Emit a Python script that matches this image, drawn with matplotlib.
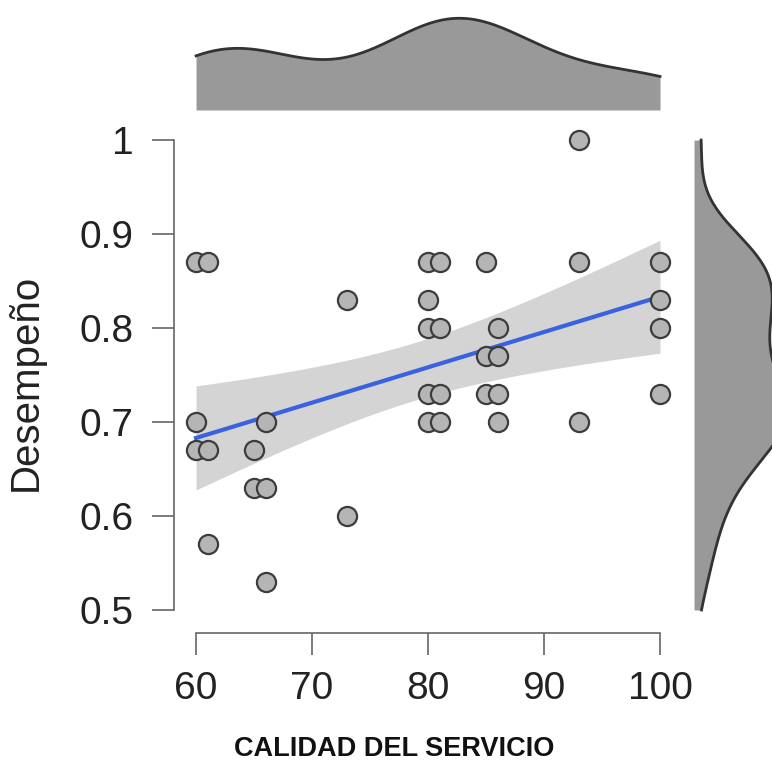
import numpy as np
import matplotlib
matplotlib.use("Agg")
import matplotlib.pyplot as plt

plt.rcParams['font.family'] = ['Liberation Sans', 'DejaVu Sans']

# datos
calidad = [60, 61, 60, 60, 61, 61, 65, 65, 66, 66, 66, 73, 73,
           80, 81, 80, 80, 81, 80, 81, 80, 81,
           85, 86, 85, 86, 85, 86, 86, 93, 93, 93, 100, 100, 100, 100]
desempeno = [0.87, 0.87, 0.70, 0.67, 0.67, 0.57, 0.67, 0.63, 0.63, 0.70, 0.53, 0.83, 0.60,
             0.87, 0.87, 0.83, 0.80, 0.80, 0.73, 0.73, 0.70, 0.70,
             0.87, 0.80, 0.77, 0.77, 0.73, 0.73, 0.70, 1.00, 0.87, 0.70, 0.87, 0.83, 0.80, 0.73]
xticks = [60, 70, 80, 90, 100]
yticks = [0.5, 0.6, 0.7, 0.8, 0.9, 1.0]
ytick_labels = ["0.5", "0.6", "0.7", "0.8", "0.9", "1"]

x = np.array(calidad, dtype=float)
y = np.array(desempeno, dtype=float)


def kde(v, grid):
    # densidad gaussiana con ancho de banda tipo bw.nrd0 de R
    n = len(v)
    iqr = np.subtract(*np.percentile(v, [75, 25]))
    bw = 0.9 * min(v.std(ddof=1), iqr / 1.34) * n ** -0.2
    d = (grid[:, None] - v[None, :]) / bw
    return np.exp(-0.5 * d ** 2).sum(axis=1) / (n * bw * np.sqrt(2 * np.pi))


fig = plt.figure(figsize=(7.72, 7.67), dpi=100)
ax = fig.add_axes([0.2254, 0.1747, 0.6554, 0.6675])
axt = fig.add_axes([0.2254, 0.8566, 0.6554, 0.13], sharex=ax)
axr = fig.add_axes([0.899, 0.1747, 0.13, 0.6675], sharey=ax)

# regresion lineal con intervalo de confianza 95%
b1, b0 = np.polyfit(x, y, 1)
xs = np.linspace(60, 100, 100)
fit = b0 + b1 * xs
n = len(x)
resid = y - (b0 + b1 * x)
s = np.sqrt((resid ** 2).sum() / (n - 2))
se = s * np.sqrt(1 / n + (xs - x.mean()) ** 2 / ((x - x.mean()) ** 2).sum())
t = 2.03
ax.fill_between(xs, fit - t * se, fit + t * se, color="#d4d4d4", lw=0, zorder=1)
ax.plot(xs, fit, color="#3a62e0", lw=3, zorder=2)
ax.scatter(x, y, s=190, facecolor="#b5b5b5", edgecolor="#3c3c3c", lw=1.6, zorder=3)

ax.set_xlim(58.1, 101.72)
ax.set_ylim(0.4755, 1.0202)
ax.set_xticks(xticks)
ax.set_yticks(yticks)
ax.set_yticklabels(ytick_labels)
for sp in ["top", "right"]:
    ax.spines[sp].set_visible(False)
ax.spines["left"].set_bounds(0.5, 1.0)
ax.spines["bottom"].set_bounds(60, 100)
for sp in ["left", "bottom"]:
    ax.spines[sp].set_color("#666666")
    ax.spines[sp].set_linewidth(1.2)
ax.tick_params(axis="both", length=16, width=1.2, color="#666666",
               labelsize=28, labelcolor="#222222")
ax.tick_params(axis="y", pad=13)
ax.tick_params(axis="x", pad=11)
ax.set_ylabel("Desempeño", fontsize=29, color="#222222")
ax.yaxis.set_label_coords(-0.255, 0.49)
ax.set_xlabel("CALIDAD DEL SERVICIO", fontsize=19.5, fontweight="bold",
              color="#111111")
ax.xaxis.set_label_coords(0.435, -0.201)

# densidades marginales
gx = np.linspace(60, 100, 300)
dx = kde(x, gx)
axt.fill_between(gx, 0, dx, color="#999999", lw=0)
axt.plot(gx, dx, color="#333333", lw=2)
axt.set_ylim(0, dx.max() / 0.92)
axt.axis("off")

gy = np.linspace(0.5, 1.0, 300)
dy = kde(y, gy)
axr.fill_betweenx(gy, 0, dy, color="#999999", lw=0)
axr.plot(dy, gy, color="#333333", lw=2)
axr.set_xlim(0, dy.max() / 0.92)
axr.axis("off")

fig.savefig("out.png", dpi=100)
